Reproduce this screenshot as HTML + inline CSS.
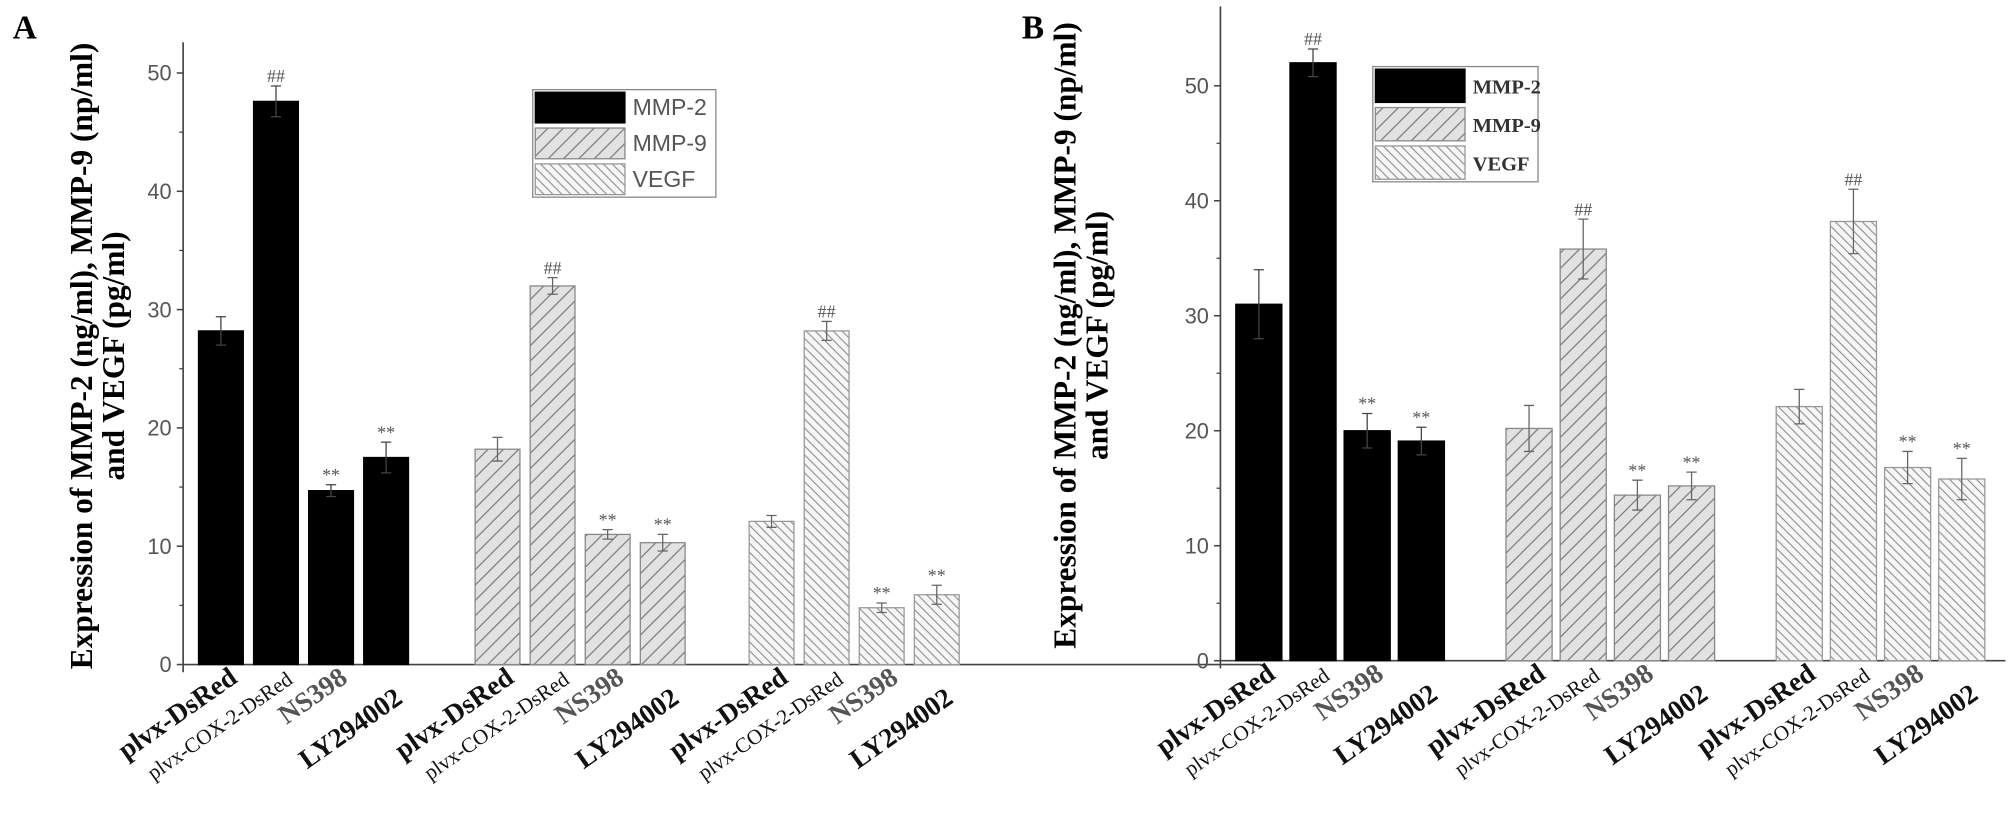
<!DOCTYPE html>
<html><head><meta charset="utf-8"><style>
html,body{margin:0;padding:0;background:#fff;}
svg{display:block;}
</style></head><body>
<svg id="chart" width="2008" height="831" viewBox="0 0 1568 649" preserveAspectRatio="none" xmlns="http://www.w3.org/2000/svg">
<defs>
<pattern id="hatchF" patternUnits="userSpaceOnUse" width="12" height="12">
<rect width="12" height="12" fill="#e2e2e2"/>
<path d="M-3,3 L3,-3 M0,12 L12,0 M9,15 L15,9" stroke="#777" stroke-width="0.9"/>
</pattern>
<pattern id="hatchB" patternUnits="userSpaceOnUse" width="7" height="7">
<rect width="7" height="7" fill="#f6f6f6"/>
<path d="M-2,-2 L9,9 M-2,5 L2,9 M5,-2 L9,2" stroke="#888" stroke-width="0.8"/>
</pattern>
</defs>
<g id="root"></g>
</svg>
<script>
// ---- Data ----
const categories = ["plvx-DsRed","plvx-COX-2-DsRed","NS398","LY294002"];
const seriesNames = ["MMP-2","MMP-9","VEGF"];
const yTicks = [0,10,20,30,40,50];
// Panel A
const aMMP2 = [28.2,47.6,14.7,17.5];
const aMMP2Err = [1.2,1.3,0.5,1.3];
const aMMP9 = [18.2,32.0,11.0,10.3];
const aMMP9Err = [1.0,0.7,0.4,0.7];
const aVEGF = [12.1,28.2,4.8,5.9];
const aVEGFErr = [0.5,0.8,0.4,0.8];
const aMarks = ["","##","**","**"];
// Panel B
const bMMP2 = [31.0,52.0,20.0,19.1];
const bMMP2Err = [3.0,1.2,1.5,1.2];
const bMMP9 = [20.2,35.8,14.4,15.2];
const bMMP9Err = [2.0,2.6,1.3,1.2];
const bVEGF = [22.1,38.2,16.8,15.8];
const bVEGFErr = [1.5,2.8,1.4,1.8];
const bMarks = ["","##","**","**"];

const NS="http://www.w3.org/2000/svg";
const root=document.getElementById('root');
function mk(tag,attrs,parent,text){const e=document.createElementNS(NS,tag);for(const k in attrs)e.setAttribute(k,attrs[k]);if(text!==undefined)e.textContent=text;(parent||root).appendChild(e);return e;}

function panel(cfg){
  const g=mk('g',{});
  
  
  const y=v=>cfg.y0-v*cfg.pxPer;
  const L=mk('text',{x:cfg.letterX,y:cfg.letterY,'font-family':'Liberation Serif, serif','font-weight':'bold','font-size':26},g,cfg.letter);
  
  
  const t=mk('text',{transform:`translate(${cfg.titleX},${cfg.titleY}) rotate(-90)`,'text-anchor':'middle','font-family':'Liberation Serif, serif','font-weight':'bold','font-size':24.5},g);
  
  
  mk('tspan',{x:0,dy:0},t,'Expression of MMP-2 (ng/ml), MMP-9 (np/ml)');
  mk('tspan',{x:0,dy:25},t,'and VEGF (pg/ml)');
  const ax=mk('line',{x1:cfg.axX,y1:cfg.axTop,x2:cfg.axX,y2:cfg.y0+6,stroke:'#444','stroke-width':1.3},g);
  
  
  const xa=mk('line',{x1:cfg.axX,y1:cfg.y0,x2:cfg.axRight,y2:cfg.y0,stroke:'#444','stroke-width':1.3},g);
  
  
  yTicks.forEach((v,i)=>{
    mk('line',{x1:cfg.axX-5,y1:y(v),x2:cfg.axX,y2:y(v),stroke:'#444','stroke-width':1.2},g);
    if(i<yTicks.length-1) mk('line',{x1:cfg.axX-3,y1:y(v+5),x2:cfg.axX,y2:y(v+5),stroke:'#444','stroke-width':1},g);
    const tl=mk('text',{x:cfg.axX-9,y:y(v)+6,'text-anchor':'end','font-family':'Liberation Sans, sans-serif','font-size':17,fill:'#555'},g,String(v));
    
    
  });
  const fills=['#000','url(#hatchF)','url(#hatchB)'];
  const strokes=['#000','#888','#999'];
  cfg.series.forEach((s,si)=>{
    s.vals.forEach((v,ci)=>{
      const x=cfg.groupStart[si]+ci*cfg.pitch;
      const r=mk('rect',{x:x,y:y(v),width:cfg.bw,height:cfg.y0-y(v),fill:fills[si],stroke:strokes[si],'stroke-width':1},g);
      
      
      const cx=x+cfg.bw/2, e=s.err[ci];
      const eb=mk('path',{d:`M${cx},${y(v)} V${y(v+e)} M${cx-4},${y(v+e)} H${cx+4} M${cx-4},${y(v-e)} H${cx+4} M${cx},${y(v)} V${y(v-e)}`,stroke:si==0?'#444':'#666','stroke-width':1,fill:'none'},g);
      
      
      if(cfg.marks[ci]){
        const m=mk('text',{x:cx,y:y(v+e)-3,'text-anchor':'middle','font-family':'Liberation Serif, serif','font-size':14,fill:'#555'},g,cfg.marks[ci]);
        
        
      }
      const cox=ci==1;
      const lx=cx+(cox?14:14), ly=cfg.y0+(cox?14:13)+ (ci==3?16:0);
      const lab=mk('text',{transform:`translate(${lx},${ly}) rotate(-35)`,'text-anchor':'end','font-family':'Liberation Serif, serif','font-weight':cox?'normal':'bold','font-size':cox?16.5:21.5,fill:ci==2?'#555':'#111'},g,categories[ci]);
      
      
    });
  });
  const lg=mk('g',{},g);
  
  
  const L0=cfg.legend;
  mk('rect',{x:L0.x,y:L0.y,width:L0.w,height:L0.rh*3,fill:'#fff',stroke:'#888','stroke-width':1},lg);
  seriesNames.forEach((n,i)=>{
    const e=mk('g',{},lg);
    
    
    mk('rect',{x:L0.x+2,y:L0.y+2+i*L0.rh,width:L0.sw,height:L0.rh-4,fill:fills[i],stroke:strokes[i],'stroke-width':1},e);
    mk('text',{x:L0.x+L0.sw+8,y:L0.y+i*L0.rh+L0.rh/2+6,'font-family':L0.font,'font-size':L0.fs,fill:L0.color,'font-weight':L0.bold?'bold':'normal'},e,n);
  });
}

panel({name:'panel-a',letter:'A',letterX:10,letterY:30,titleX:72,titleY:278,
  axX:143,axTop:33,axRight:985,y0:519,pxPer:9.24,
  groupStart:[155,371,585],pitch:43,bw:35,
  series:[{vals:aMMP2,err:aMMP2Err},{vals:aMMP9,err:aMMP9Err},{vals:aVEGF,err:aVEGFErr}],
  marks:aMarks,
  legend:{x:416,y:70,w:143,rh:28,sw:70,font:'Liberation Sans, sans-serif',fs:18,color:'#555'}});

panel({name:'panel-b',letter:'B',letterX:798,letterY:30,titleX:840,titleY:262,
  axX:953,axTop:5,axRight:1566,y0:516,pxPer:8.98,
  groupStart:[965,1176,1387],pitch:42.3,bw:36,
  series:[{vals:bMMP2,err:bMMP2Err},{vals:bMMP9,err:bMMP9Err},{vals:bVEGF,err:bVEGFErr}],
  marks:bMarks,
  legend:{x:1072,y:52,w:129,rh:30,sw:70,font:'Liberation Serif, serif',fs:16,color:'#333',bold:true}});
</script>
</body></html>
